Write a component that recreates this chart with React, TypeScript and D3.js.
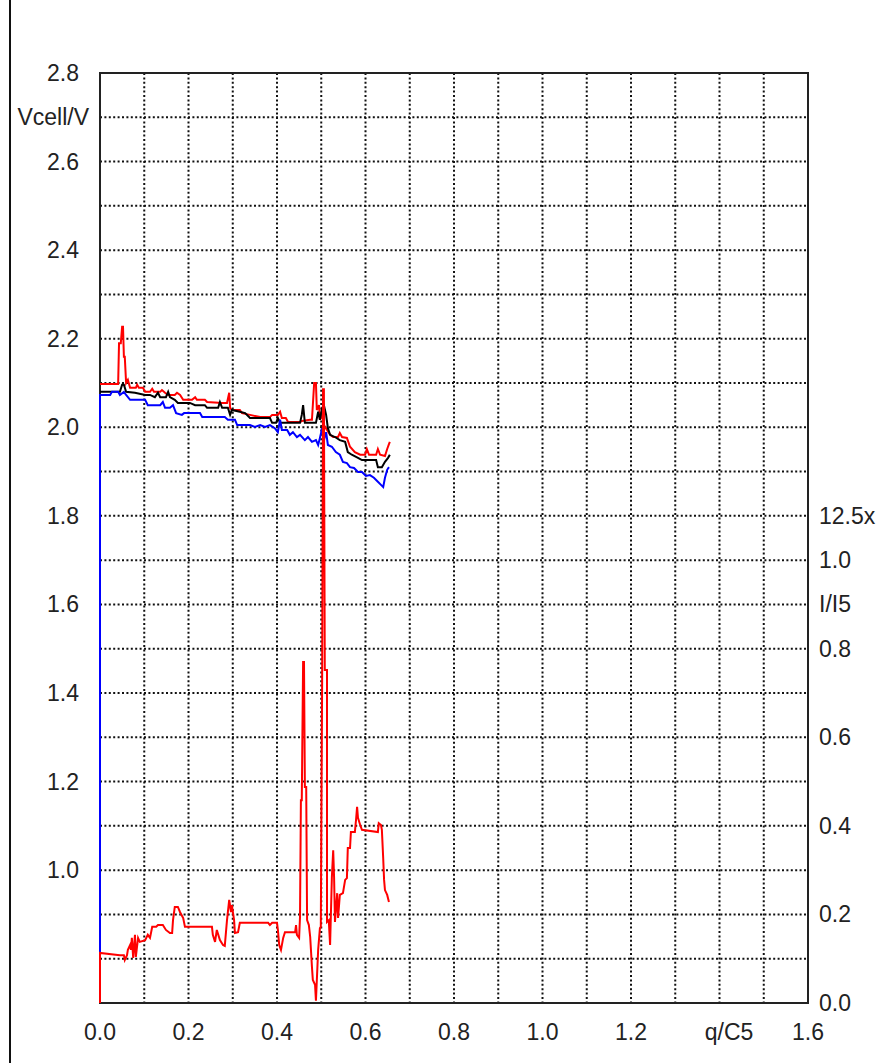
import React from "react";
import * as d3 from "d3";

// ---- data (q/C5 , value) ----
const voltRed: [number, number][] = [
  [0, 2.098], [0.041, 2.098], [0.043, 2.19], [0.047, 2.19], [0.05, 2.227], [0.052, 2.227], [0.054, 2.159], [0.056, 2.159],
  [0.059, 2.1], [0.063, 2.107], [0.068, 2.089], [0.081, 2.089], [0.084, 2.096], [0.088, 2.089], [0.097, 2.089], [0.102, 2.08],
  [0.113, 2.08], [0.118, 2.087], [0.122, 2.08], [0.136, 2.08], [0.14, 2.084], [0.147, 2.078], [0.154, 2.073], [0.169, 2.073],
  [0.174, 2.078], [0.181, 2.073], [0.188, 2.062], [0.208, 2.062], [0.215, 2.068], [0.219, 2.062], [0.237, 2.062], [0.242, 2.057],
  [0.276, 2.055], [0.287, 2.055], [0.292, 2.078], [0.294, 2.044], [0.298, 2.039], [0.316, 2.039], [0.321, 2.032], [0.339, 2.028],
  [0.362, 2.023], [0.384, 2.023], [0.389, 2.028], [0.402, 2.028], [0.407, 2.035], [0.411, 2.021], [0.42, 2.021], [0.425, 2.012],
  [0.452, 2.012], [0.456, 2.014], [0.475, 2.017], [0.479, 2.017], [0.484, 2.1], [0.488, 2.1], [0.49, 2.039], [0.495, 2.05],
  [0.497, 2.017], [0.502, 2.028], [0.506, 2.005], [0.513, 1.994], [0.52, 1.983], [0.527, 1.978], [0.538, 1.978], [0.542, 1.987],
  [0.547, 1.978], [0.558, 1.976], [0.565, 1.956], [0.576, 1.944], [0.588, 1.938], [0.599, 1.938], [0.603, 1.951], [0.608, 1.938],
  [0.624, 1.938], [0.628, 1.951], [0.633, 1.938], [0.644, 1.935], [0.649, 1.951], [0.653, 1.962], [0.655, 1.967],
];

const voltBlack: [number, number][] = [
  [0, 2.08], [0.045, 2.08], [0.05, 2.096], [0.054, 2.096], [0.059, 2.08], [0.079, 2.078], [0.102, 2.073], [0.113, 2.073],
  [0.124, 2.068], [0.131, 2.078], [0.136, 2.068], [0.149, 2.068], [0.154, 2.08], [0.158, 2.068], [0.169, 2.062], [0.176, 2.055],
  [0.203, 2.055], [0.215, 2.05], [0.237, 2.05], [0.242, 2.044], [0.267, 2.044], [0.271, 2.057], [0.276, 2.044], [0.289, 2.044],
  [0.294, 2.028], [0.298, 2.039], [0.316, 2.035], [0.328, 2.032], [0.339, 2.021], [0.384, 2.021], [0.389, 2.01], [0.398, 2.01],
  [0.402, 2.021], [0.407, 2.01], [0.452, 2.01], [0.456, 2.028], [0.459, 2.05], [0.463, 2.01], [0.488, 2.01], [0.493, 2.035],
  [0.497, 2.017], [0.502, 2.044], [0.506, 2.05], [0.511, 2.028], [0.515, 1.998], [0.52, 1.983], [0.531, 1.978], [0.542, 1.971],
  [0.554, 1.967], [0.56, 1.944], [0.569, 1.938], [0.583, 1.931], [0.592, 1.926], [0.624, 1.926], [0.628, 1.91], [0.637, 1.91],
  [0.644, 1.922], [0.651, 1.931], [0.655, 1.938],
];

const voltBlue: [number, number][] = [
  [0, 0.813], [0, 2.073], [0.023, 2.073], [0.027, 2.08], [0.041, 2.08], [0.045, 2.073], [0.054, 2.08], [0.059, 2.073],
  [0.068, 2.062], [0.102, 2.062], [0.108, 2.05], [0.136, 2.05], [0.142, 2.057], [0.147, 2.044], [0.158, 2.044], [0.165, 2.05],
  [0.172, 2.032], [0.185, 2.028], [0.19, 2.032], [0.226, 2.032], [0.231, 2.023], [0.282, 2.023], [0.289, 2.017], [0.305, 2.017],
  [0.31, 2.005], [0.339, 2.005], [0.35, 2.001], [0.362, 2.005], [0.373, 2.001], [0.384, 2.005], [0.395, 1.998], [0.402, 1.989],
  [0.407, 2.017], [0.411, 1.994], [0.423, 1.994], [0.429, 1.983], [0.436, 1.989], [0.445, 1.978], [0.452, 1.983], [0.463, 1.971],
  [0.47, 1.978], [0.479, 1.967], [0.488, 1.971], [0.493, 1.96], [0.497, 1.976], [0.502, 1.998], [0.506, 1.971], [0.511, 1.989],
  [0.515, 1.96], [0.524, 1.956], [0.533, 1.944], [0.542, 1.938], [0.549, 1.922], [0.558, 1.919], [0.565, 1.91], [0.574, 1.908],
  [0.583, 1.899], [0.592, 1.899], [0.601, 1.89], [0.61, 1.892], [0.619, 1.886], [0.628, 1.877], [0.635, 1.87], [0.64, 1.865],
  [0.644, 1.886], [0.649, 1.904], [0.653, 1.91],
];

const current: [number, number][] = [
  [0, 0], [0, 0.113], [0.045, 0.108], [0.054, 0.108], [0.056, 0.097], [0.061, 0.108], [0.063, 0.12], [0.068, 0.131],
  [0.07, 0.12], [0.072, 0.147], [0.075, 0.102], [0.079, 0.154], [0.081, 0.104], [0.086, 0.147], [0.09, 0.138], [0.102, 0.142],
  [0.108, 0.154], [0.113, 0.147], [0.118, 0.172], [0.127, 0.172], [0.131, 0.176], [0.142, 0.176], [0.149, 0.165], [0.158, 0.158],
  [0.163, 0.158], [0.165, 0.187], [0.169, 0.217], [0.176, 0.217], [0.181, 0.205], [0.188, 0.192], [0.192, 0.172], [0.253, 0.172],
  [0.255, 0.154], [0.26, 0.138], [0.264, 0.165], [0.271, 0.142], [0.278, 0.131], [0.282, 0.129], [0.287, 0.187], [0.292, 0.233],
  [0.296, 0.205], [0.298, 0.221], [0.303, 0.187], [0.305, 0.158], [0.312, 0.16], [0.316, 0.181], [0.38, 0.181], [0.384, 0.176],
  [0.389, 0.181], [0.4, 0.181], [0.402, 0.165], [0.405, 0.131], [0.409, 0.12], [0.414, 0.147], [0.418, 0.16], [0.441, 0.16],
  [0.443, 0.176], [0.445, 0.154], [0.45, 0.147], [0.452, 0.194], [0.454, 0.458], [0.456, 0.458], [0.459, 0.77], [0.461, 0.77],
  [0.463, 0.488], [0.466, 0.488], [0.468, 0.187], [0.472, 0.176], [0.475, 0.149], [0.479, 0.081], [0.481, 0.052], [0.486, 0.041],
  [0.488, 0.005], [0.493, 0.12], [0.497, 0.169], [0.499, 0.172], [0.502, 0.729], [0.504, 1.386], [0.506, 1.386], [0.508, 0.752],
  [0.513, 0.752], [0.513, 0.183], [0.517, 0.187], [0.52, 0.131], [0.524, 0.284], [0.527, 0.345], [0.529, 0.284], [0.531, 0.183],
  [0.536, 0.248], [0.538, 0.192], [0.542, 0.244], [0.549, 0.248], [0.554, 0.278], [0.558, 0.282], [0.56, 0.35], [0.565, 0.35],
  [0.567, 0.386], [0.576, 0.386], [0.579, 0.418], [0.581, 0.443], [0.583, 0.418], [0.588, 0.402], [0.592, 0.391], [0.628, 0.386],
  [0.63, 0.406], [0.635, 0.402], [0.637, 0.391], [0.64, 0.327], [0.642, 0.278], [0.644, 0.255], [0.649, 0.244], [0.653, 0.228],
];

const xTickLabels: [number, string][] = [
  [0, "0.0"], [0.2, "0.2"], [0.4, "0.4"], [0.6, "0.6"], [0.8, "0.8"], [1.0, "1.0"], [1.2, "1.2"], [1.6, "1.6"],
];
const xTitle = "q/C5";
const leftTickLabels: [number, string][] = [
  [2.8, "2.8"], [2.6, "2.6"], [2.4, "2.4"], [2.2, "2.2"], [2.0, "2.0"], [1.8, "1.8"], [1.6, "1.6"], [1.4, "1.4"], [1.2, "1.2"], [1.0, "1.0"],
];
const leftTitle = "Vcell/V";
const rightTickLabels: [number, string][] = [
  [0, "0.0"], [0.2, "0.2"], [0.4, "0.4"], [0.6, "0.6"], [0.8, "0.8"], [1.0, "1.0"],
];
const rightTitle = "I/I5";
const rightScaleNote = "12.5x";

export default function App() {
  const W = 881, H = 1063;
  const L = 100, R = 808, T = 73, B = 1003;
  const x = d3.scaleLinear().domain([0, 1.6]).range([L, R]);
  const yL = d3.scaleLinear().domain([0.7, 2.8]).range([B, T]);
  const yR = d3.scaleLinear().domain([0, 2.1]).range([B, T]);

  const lineL = d3.line<[number, number]>().x((d) => x(d[0])).y((d) => yL(d[1]));
  const lineR = d3.line<[number, number]>().x((d) => x(d[0])).y((d) => yR(d[1]));

  const xGrid = d3.range(1, 16).map((i) => i / 10);
  const yGrid = d3.range(8, 28).map((i) => i / 10);

  const font = "'Liberation Sans', Arial, sans-serif";
  const fs = 23;
  const txt = "#222";

  return (
    <svg width={W} height={H} style={{ position: "absolute", left: 0, top: 0, background: "#fff" }}>
      <rect x={0} y={0} width={W} height={H} fill="#fff" />
      <line x1={10} x2={10} y1={0} y2={H} stroke="#111" strokeWidth={2} />
      {/* grid */}
      <g stroke="#111" strokeWidth={2} strokeDasharray="2,2.4">
        {xGrid.map((v) => (
          <line key={"gx" + v} x1={x(v)} x2={x(v)} y1={T} y2={B} />
        ))}
        {yGrid.map((v) => (
          <line key={"gy" + v} x1={L} x2={R} y1={yL(v)} y2={yL(v)} />
        ))}
      </g>
      {/* frame */}
      <rect x={L} y={T} width={R - L} height={B - T} fill="none" stroke="#222" strokeWidth={2} />
      {/* series */}
      <g fill="none" strokeWidth={2} strokeLinejoin="miter">
        <path d={lineL(voltRed) || ""} stroke="#ff0000" />
        <path d={lineL(voltBlack) || ""} stroke="#000000" />
        <path d={lineL(voltBlue) || ""} stroke="#0000ff" />
        <path d={lineR(current) || ""} stroke="#ff0000" />
      </g>
      {/* labels */}
      <g fontFamily={font} fontSize={fs} fill={txt}>
        {leftTickLabels.map(([v, s]) => (
          <text key={"l" + s} x={79} y={yL(v)} textAnchor="end" dominantBaseline="central">{s}</text>
        ))}
        <text x={89} y={yL(2.7)} textAnchor="end" dominantBaseline="central">{leftTitle}</text>
        {xTickLabels.map(([v, s]) => (
          <text key={"x" + s} x={x(v)} y={1032} textAnchor="middle" dominantBaseline="central">{s}</text>
        ))}
        <text x={729} y={1032} textAnchor="middle" dominantBaseline="central">{xTitle}</text>
        {rightTickLabels.map(([v, s]) => (
          <text key={"r" + s} x={819} y={yR(v)} dominantBaseline="central">{s}</text>
        ))}
        <text x={819} y={yR(0.9)} dominantBaseline="central">{rightTitle}</text>
        <text x={819} y={yR(1.1)} dominantBaseline="central">{rightScaleNote}</text>
      </g>
    </svg>
  );
}
